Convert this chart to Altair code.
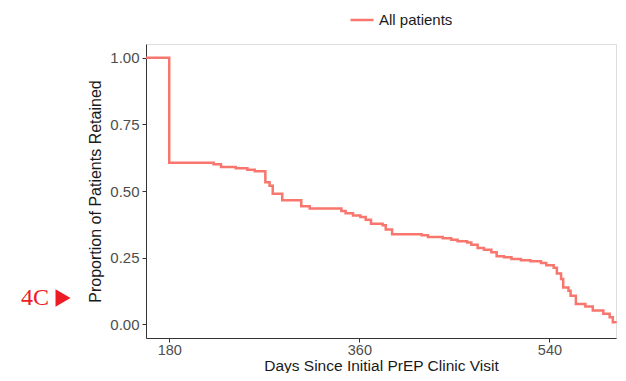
import altair as alt
import pandas as pd

days = [158, 180, 222, 229, 243, 254, 261, 271, 275, 278, 287, 305, 313, 343, 347, 354,
        361, 366, 371, 382, 385, 391, 419, 425, 439, 447, 453, 462, 466, 472, 478, 485,
        490, 497, 504, 513, 522, 532, 537, 544, 547, 551, 553, 558, 560, 565, 574, 581,
        591, 597, 600, 602.5]
props = [1.0, 0.606, 0.600, 0.590, 0.585, 0.580, 0.574, 0.533, 0.520, 0.490, 0.465, 0.443,
         0.434, 0.425, 0.416, 0.408, 0.402, 0.392, 0.377, 0.371, 0.355, 0.338, 0.334, 0.327,
         0.323, 0.317, 0.311, 0.307, 0.298, 0.286, 0.279, 0.270, 0.255, 0.251, 0.245, 0.240,
         0.236, 0.230, 0.221, 0.212, 0.190, 0.170, 0.138, 0.125, 0.107, 0.076, 0.066, 0.051,
         0.039, 0.026, 0.007, 0.003]
group = "All patients"
note_label = ["4C"]

df = pd.DataFrame({"day": days, "prop": props, "group": group})

font = "Liberation Sans"
red = "#ED1C24"

line = alt.Chart(df).mark_line(interpolate="step-after", strokeWidth=2.5).encode(
    x=alt.X("day:Q", scale=alt.Scale(domain=[158, 603], nice=False, zero=False),
            axis=alt.Axis(values=[180, 360, 540], title="Days Since Initial PrEP Clinic Visit",
                          grid=False, domainColor="#333333", tickColor="#333333",
                          tickSize=4, labelColor="#4D4D4D", labelFontSize=14.5,
                          labelFont=font, titleFont=font, titleFontSize=15.5,
                          titleFontWeight="normal", titleColor="#1a1a1a", titlePadding=2,
                          labelPadding=1)),
    y=alt.Y("prop:Q", scale=alt.Scale(domain=[-0.052, 1.052], nice=False, zero=False),
            axis=alt.Axis(values=[0, 0.25, 0.5, 0.75, 1.0], format=".2f",
                          title="Proportion of Patients Retained",
                          grid=False, domainColor="#333333", tickColor="#333333",
                          tickSize=4, labelColor="#4D4D4D", labelFontSize=15,
                          labelFont=font, titleFont=font, titleFontSize=16,
                          titleFontWeight="normal", titleColor="#1a1a1a", titlePadding=6,
                          labelPadding=3)),
    color=alt.Color("group:N", scale=alt.Scale(range=["#F8766D"]),
                    legend=alt.Legend(title=None, orient="none", legendX=203, legendY=-37,
                                      symbolType="stroke", symbolStrokeWidth=2.5,
                                      symbolSize=530, labelFont=font, labelFontSize=15,
                                      labelColor="#1a1a1a", direction="horizontal")),
)

note = alt.Chart(pd.DataFrame({"t": note_label})).mark_text(
    align="left", baseline="middle", font="Liberation Serif", fontSize=24,
    color=red, clip=False
).encode(text="t:N", x=alt.value(-125), y=alt.value(254))

arrow = alt.Chart(pd.DataFrame({"t": note_label})).mark_point(
    shape="triangle-right", filled=True, size=300, color=red, opacity=1, clip=False
).encode(x=alt.value(-83), y=alt.value(254))

chart = alt.layer(line, note, arrow).properties(
    width=470, height=294,
    padding={"left": 138, "top": 36, "right": 2, "bottom": 35},
    autosize=alt.AutoSizeParams(type="none"),
).configure_view(stroke=None).configure(background="white")

chart.save("out.html", embed_options={"renderer": "svg", "actions": False})
